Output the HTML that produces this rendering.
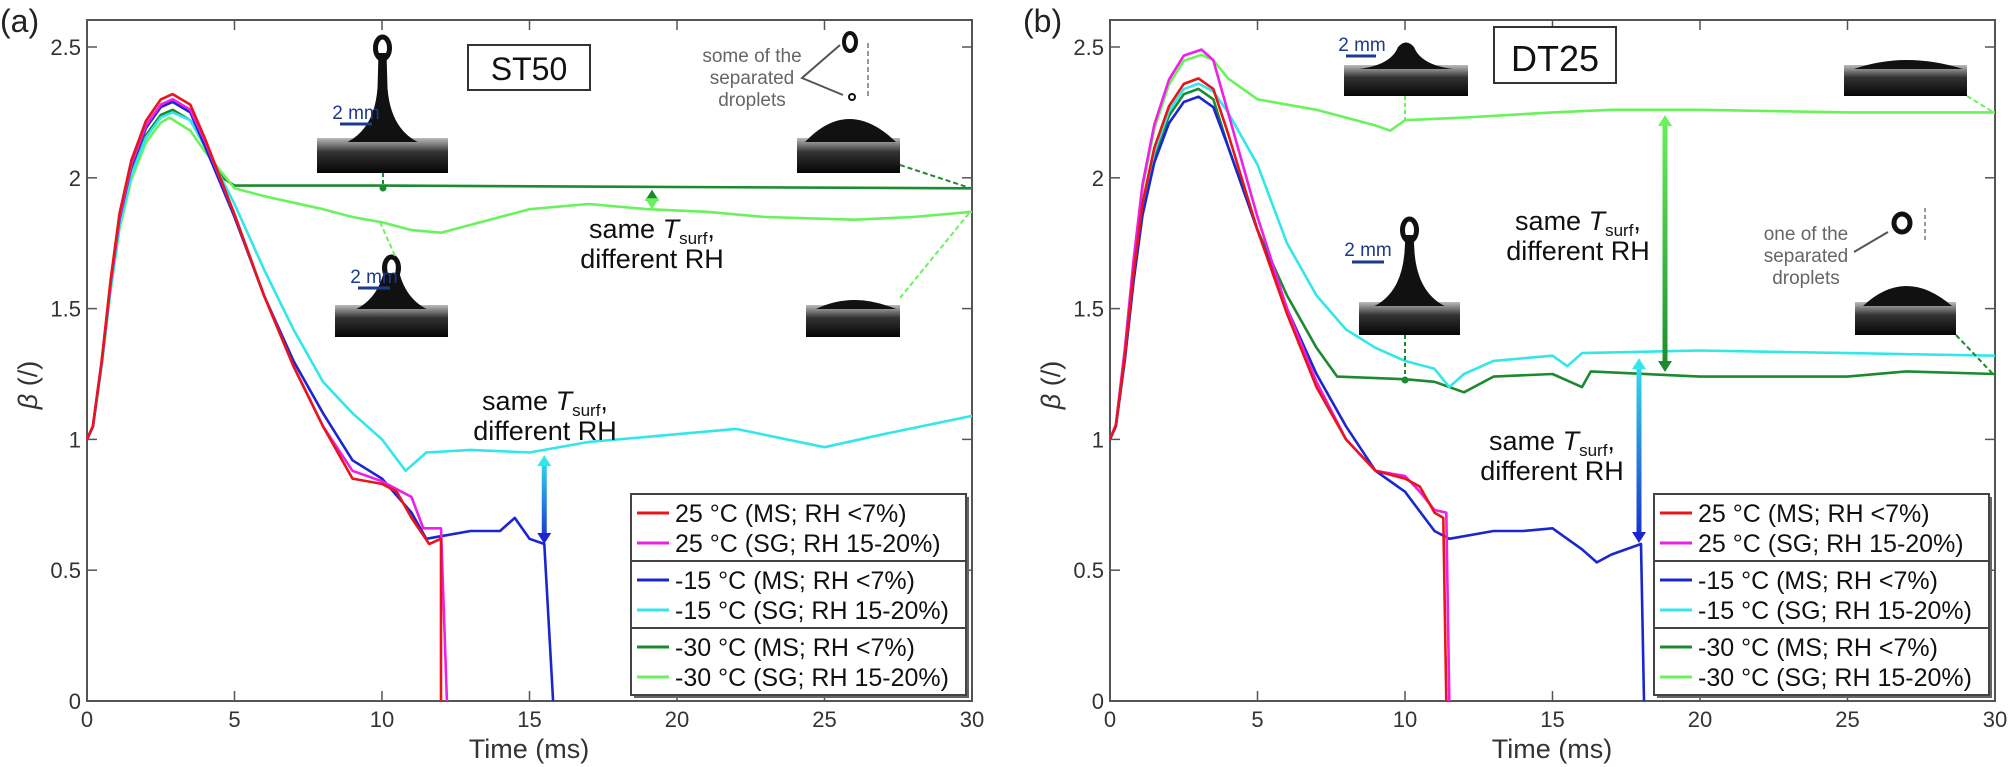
<!DOCTYPE html>
<html><head><meta charset="utf-8"><style>
body{margin:0;background:#fff;}
svg{display:block;font-family:"Liberation Sans",Arial,sans-serif;}
</style></head><body>
<svg id="s" width="2008" height="767" viewBox="0 0 2008 767" xmlns="http://www.w3.org/2000/svg"></svg>
<script>
const S=document.getElementById('s');let h='';
const C={r:'#e8161b',m:'#ee1fe6',b:'#1a27d0',c:'#33e6ea',g:'#1c8a2e',l:'#6af25c'};
function P(x0){return {X:t=>x0+t*29.5,Y:b=>701-b*261.6};}
const rise=[[0,1],[0.2,1.05],[0.5,1.3],[0.8,1.6],[1.1,1.85],[1.5,2.05],[2,2.2],[2.5,2.28]];
function curve(p,pts,col,w){
 let d=pts.map((q,i)=>(i?'L':'M')+p.X(q[0]).toFixed(1)+','+p.Y(q[1]*1).toFixed(1)).join('');
 h+=`<path d="${d}" fill="none" stroke="${col}" stroke-width="${w||2.6}" stroke-linejoin="round"/>`;
}
function withRise(pk,peakT,rest){return rise.map(q=>[q[0],1+(q[1]-1)*(pk-1)/1.3]).concat([[peakT,pk]],rest);}
function axes(x0,lab,title,tx){
 const p=P(x0);
 h+=`<rect x="${x0}" y="20" width="885" height="681" fill="none" stroke="#555" stroke-width="2"/>`;
 for(let i=0;i<=6;i++){let x=p.X(i*5);
  h+=`<line x1="${x}" y1="701" x2="${x}" y2="691" stroke="#555" stroke-width="1.5"/><line x1="${x}" y1="20" x2="${x}" y2="30" stroke="#555" stroke-width="1.5"/>`;
  h+=`<text x="${x}" y="727" font-size="22" fill="#333" text-anchor="middle">${i*5}</text>`;}
 [0,0.5,1,1.5,2,2.5].forEach(v=>{let y=p.Y(v);
  h+=`<line x1="${x0}" y1="${y}" x2="${x0+10}" y2="${y}" stroke="#555" stroke-width="1.5"/><line x1="${x0+885}" y1="${y}" x2="${x0+875}" y2="${y}" stroke="#555" stroke-width="1.5"/>`;
  h+=`<text x="${x0-6}" y="${y+8}" font-size="22" fill="#333" text-anchor="end">${v}</text>`;});
 h+=`<text x="${x0+442}" y="758" font-size="27" fill="#333" text-anchor="middle">Time (ms)</text>`;
 h+=`<text transform="translate(${x0-50},385) rotate(-90)" font-size="27" fill="#333" text-anchor="middle"><tspan font-style="italic">β</tspan> (/)</text>`;
 h+=`<text x="${x0-87}" y="32" font-size="32" fill="#222">${lab}</text>`;
 h+=`<rect x="${tx}" y="${title=='ST50'?45:27}" width="122" height="${title=='ST50'?45:56}" fill="#fff" stroke="#333" stroke-width="2"/><text x="${tx+61}" y="${title=='ST50'?80:71}" font-size="${title=='ST50'?32:36}" fill="#111" text-anchor="middle">${title}</text>`;
 return p;
}
function legend(x){
 const items=[['r','25 °C (MS; RH <7%)'],['m','25 °C (SG; RH 15-20%)'],['b','-15 °C (MS; RH <7%)'],['c','-15 °C (SG; RH 15-20%)'],['g','-30 °C (MS; RH <7%)'],['l','-30 °C (SG; RH 15-20%)']];
 h+=`<rect x="${x+3}" y="497" width="335" height="201" fill="#666"/><rect x="${x}" y="494" width="335" height="201" fill="#fff" stroke="#444" stroke-width="2"/>`;
 h+=`<line x1="${x}" y1="561" x2="${x+335}" y2="561" stroke="#444" stroke-width="2"/><line x1="${x}" y1="628" x2="${x+335}" y2="628" stroke="#444" stroke-width="2"/>`;
 items.forEach((it,i)=>{let y=513+Math.floor(i/2)*67+(i%2)*30;
  h+=`<line x1="${x+6}" y1="${y}" x2="${x+38}" y2="${y}" stroke="${C[it[0]]}" stroke-width="3"/><text x="${x+44}" y="${y+9}" font-size="25" fill="#111">${it[1]}</text>`;});
}
let gi=0;
function inset(x,y,w,hh,base,kind){
 gi++;
 h+=`<defs><linearGradient id="ig${gi}" x1="0" y1="0" x2="0" y2="1"><stop offset="0" stop-color="#bbb"/><stop offset="0.4" stop-color="#333"/><stop offset="1" stop-color="#050505"/></linearGradient></defs>`;
 h+=`<rect x="${x}" y="${base}" width="${w}" height="${y+hh-base}" fill="url(#ig${gi})"/>`;
 let cx=x+w/2;
 if(kind=='jet'){h+=`<path d="M${cx-35},${base+4} Q${cx-8},${base-10} ${cx-5},${base-50} L${cx-4},${y+15} L${cx+4},${y+15} L${cx+5},${base-50} Q${cx+8},${base-10} ${cx+35},${base+4}Z" fill="#111"/><ellipse cx="${cx}" cy="${y+10}" rx="7" ry="11" fill="none" stroke="#111" stroke-width="5"/>`;}
 if(kind=='dome'){h+=`<path d="M${x+8},${base+4} Q${cx},${y-14} ${x+w-4},${base+4}Z" fill="#111"/>`;}
 if(kind=='peak'){h+=`<path d="M${x+15},${base+4} Q${cx-15},${base} ${cx-8},${y+5} Q${cx},${y-4} ${cx+8},${y+5} Q${cx+15},${base} ${x+w-15},${base+4}Z" fill="#111"/>`;}
 if(kind=='flat'){h+=`<path d="M${x+10},${base+4} Q${cx},${base-14} ${x+w-4},${base+4}Z" fill="#111"/>`;}
}
function txt(x,y){h+=`<text x="${x}" y="${y}" font-size="27" fill="#111" text-anchor="middle">same <tspan font-style="italic">T</tspan><tspan font-size="17" dy="6">surf</tspan><tspan dy="-6">,</tspan></text><text x="${x}" y="${y+30}" font-size="27" fill="#111" text-anchor="middle">different RH</text>`;}
function darrow(x,y1,y2,c1,c2,id){
 h+=`<defs><linearGradient id="${id}" gradientUnits="userSpaceOnUse" x1="0" y1="${y1}" x2="0" y2="${y2}"><stop offset="0" stop-color="${c1}"/><stop offset="1" stop-color="${c2}"/></linearGradient></defs>`;
 h+=`<rect x="${x-2.5}" y="${y1+8}" width="5" height="${y2-y1-16}" fill="url(#${id})"/><path d="M${x-7},${y1+11} L${x},${y1} L${x+7},${y1+11}Z" fill="${c1}"/><path d="M${x-7},${y2-11} L${x},${y2} L${x+7},${y2-11}Z" fill="${c2}"/>`;
}
// ---- (a)
let p=axes(87,'(a)','ST50',468);
inset(317,38,131,135,138,'jet');inset(797,110,103,63,138,'dome');inset(335,258,113,79,305,'jet');inset(806,298,94,39,305,'flat');
h+=`<line x1="340" y1="124" x2="372" y2="124" stroke="#1b3a8c" stroke-width="3"/><text x="356" y="119" font-size="19" fill="#1b3a8c" text-anchor="middle">2 mm</text>`;
h+=`<line x1="358" y1="288" x2="390" y2="288" stroke="#1b3a8c" stroke-width="3"/><text x="374" y="283" font-size="19" fill="#1b3a8c" text-anchor="middle">2 mm</text>`;
h+=`<text x="752" y="62" font-size="19" fill="#666" text-anchor="middle">some of the</text><text x="752" y="84" font-size="19" fill="#666" text-anchor="middle">separated</text><text x="752" y="106" font-size="19" fill="#666" text-anchor="middle">droplets</text>`;
h+=`<path d="M840,45 L802,78 L843,95" fill="none" stroke="#555" stroke-width="2"/><ellipse cx="850" cy="42" rx="6" ry="9" fill="none" stroke="#111" stroke-width="4"/><circle cx="852" cy="97" r="3" fill="none" stroke="#111" stroke-width="2"/><line x1="868" y1="96" x2="868" y2="40" stroke="#777" stroke-width="1.5" stroke-dasharray="5,3"/>`;
curve(p,withRise(2.26,2.9,[[3.5,2.22],[4,2.12],[4.6,2.0],[5,1.97],[10,1.97],[20,1.965],[30,1.96]]),C.g);
curve(p,withRise(2.23,2.8,[[3.5,2.18],[4,2.1],[5,1.96],[6,1.93],[8,1.88],[9,1.85],[10,1.83],[11,1.8],[12,1.79],[13,1.82],[15,1.88],[17,1.9],[19,1.88],[21,1.87],[23,1.85],[26,1.84],[28,1.85],[30,1.87]]),C.l);
curve(p,withRise(2.25,2.9,[[3.5,2.22],[4,2.12],[5,1.9],[6,1.65],[7,1.42],[8,1.22],[9,1.1],[10,1.0],[10.8,0.88],[11.5,0.95],[13,0.96],[15,0.95],[17,0.99],[20,1.02],[22,1.04],[25,0.97],[27,1.02],[30,1.09]]),C.c);
curve(p,withRise(2.29,2.9,[[3.5,2.25],[4,2.12],[5,1.85],[6,1.55],[7,1.3],[8,1.1],[9,0.92],[10,0.85],[11,0.72],[11.5,0.62],[12,0.63],[13,0.65],[14,0.65],[14.5,0.7],[15,0.62],[15.5,0.6],[15.8,0]]),C.b);
curve(p,withRise(2.3,2.9,[[3.5,2.26],[4,2.14],[5,1.86],[6,1.55],[7,1.28],[8,1.05],[9,0.88],[10,0.84],[11,0.78],[11.4,0.66],[12,0.66],[12.2,0]]),C.m);
curve(p,withRise(2.32,2.9,[[3.5,2.28],[4,2.15],[5,1.86],[6,1.55],[7,1.28],[8,1.05],[9,0.85],[10,0.83],[10.5,0.8],[11,0.7],[11.6,0.6],[12,0.62],[12,0]]),C.r);
h+=`<line x1="383" y1="173" x2="383" y2="187" stroke="${C.g}" stroke-width="2" stroke-dasharray="4,3"/><circle cx="383" cy="188" r="3.5" fill="${C.g}"/>`;
h+=`<line x1="380" y1="222" x2="395" y2="256" stroke="${C.l}" stroke-width="2" stroke-dasharray="5,3"/><line x1="900" y1="165" x2="970" y2="188" stroke="${C.g}" stroke-width="2" stroke-dasharray="5,3"/><line x1="900" y1="298" x2="970" y2="212" stroke="${C.l}" stroke-width="2" stroke-dasharray="5,3"/>`;
darrow(652,p.Y(1.955),p.Y(1.88),C.g,C.l,'a1');
txt(652,238);
darrow(p.X(15.5),p.Y(0.94),p.Y(0.6),C.c,C.b,'a2');
txt(545,410);
legend(631);
// ---- (b)
p=axes(1110,'(b)','DT25',1494);
inset(1344,42,124,54,65,'peak');inset(1844,60,123,36,65,'flat');inset(1359,220,101,115,302,'jet');inset(1855,280,101,55,302,'dome');
h+=`<line x1="1346" y1="56" x2="1376" y2="56" stroke="#1b3a8c" stroke-width="3"/><text x="1362" y="51" font-size="19" fill="#1b3a8c" text-anchor="middle">2 mm</text>`;
h+=`<line x1="1352" y1="262" x2="1384" y2="262" stroke="#1b3a8c" stroke-width="3"/><text x="1368" y="256" font-size="19" fill="#1b3a8c" text-anchor="middle">2 mm</text>`;
h+=`<text x="1806" y="240" font-size="19" fill="#666" text-anchor="middle">one of the</text><text x="1806" y="262" font-size="19" fill="#666" text-anchor="middle">separated</text><text x="1806" y="284" font-size="19" fill="#666" text-anchor="middle">droplets</text>`;
h+=`<path d="M1854,252 L1888,232" fill="none" stroke="#555" stroke-width="2"/><ellipse cx="1902" cy="223" rx="8" ry="9" fill="none" stroke="#111" stroke-width="5"/><line x1="1925" y1="240" x2="1925" y2="205" stroke="#777" stroke-width="1.5" stroke-dasharray="4,3"/>`;
curve(p,withRise(2.34,3.0,[[3.5,2.3],[4,2.12],[5,1.8],[6,1.55],[7,1.35],[7.7,1.24],[10,1.23],[11,1.22],[12,1.18],[13,1.24],[15,1.25],[16,1.2],[16.3,1.26],[20,1.24],[25,1.24],[27,1.26],[30,1.25]]),C.g);
curve(p,withRise(2.47,3.1,[[3.5,2.45],[4,2.38],[5,2.3],[7,2.26],[9,2.2],[9.5,2.18],[10,2.22],[12,2.23],[15,2.25],[17,2.26],[20,2.26],[25,2.25],[30,2.25]]),C.l);
curve(p,withRise(2.36,3.0,[[3.5,2.33],[4,2.25],[5,2.05],[6,1.75],[7,1.55],[8,1.42],[9,1.35],[10,1.3],[11,1.27],[11.5,1.2],[12,1.25],[13,1.3],[15,1.32],[15.5,1.28],[16,1.33],[20,1.34],[25,1.33],[30,1.32]]),C.c);
curve(p,withRise(2.31,3.0,[[3.5,2.27],[4,2.12],[5,1.8],[6,1.5],[7,1.25],[8,1.05],[9,0.88],[10,0.8],[11,0.65],[11.5,0.62],[13,0.65],[14,0.65],[15,0.66],[16,0.58],[16.5,0.53],[17,0.56],[18,0.6],[18.1,0]]),C.b);
curve(p,withRise(2.49,3.1,[[3.5,2.45],[4,2.25],[5,1.85],[6,1.5],[7,1.22],[8,1.0],[9,0.88],[10,0.86],[10.5,0.8],[11,0.73],[11.4,0.72],[11.5,0]]),C.m);
curve(p,withRise(2.38,3.0,[[3.5,2.34],[4,2.17],[5,1.8],[6,1.48],[7,1.2],[8,1.0],[9,0.88],[10,0.85],[10.5,0.82],[11,0.72],[11.3,0.7],[11.4,0]]),C.r);
h+=`<line x1="1405" y1="96" x2="1405" y2="120" stroke="${C.l}" stroke-width="2" stroke-dasharray="4,3"/>`;
h+=`<line x1="1405" y1="335" x2="1405" y2="378" stroke="${C.g}" stroke-width="2" stroke-dasharray="4,3"/><circle cx="1405" cy="380" r="3.5" fill="${C.g}"/>`;
h+=`<line x1="1967" y1="96" x2="1993" y2="112" stroke="${C.l}" stroke-width="2" stroke-dasharray="5,3"/><line x1="1956" y1="335" x2="1993" y2="374" stroke="${C.g}" stroke-width="2" stroke-dasharray="5,3"/>`;
darrow(1665,115,372,C.l,C.g,'b1');
txt(1578,230);
darrow(1639,p.Y(1.31),543,C.c,C.b,'b2');
txt(1552,450);
legend(1654);
S.innerHTML=h;
</script>
</body></html>
